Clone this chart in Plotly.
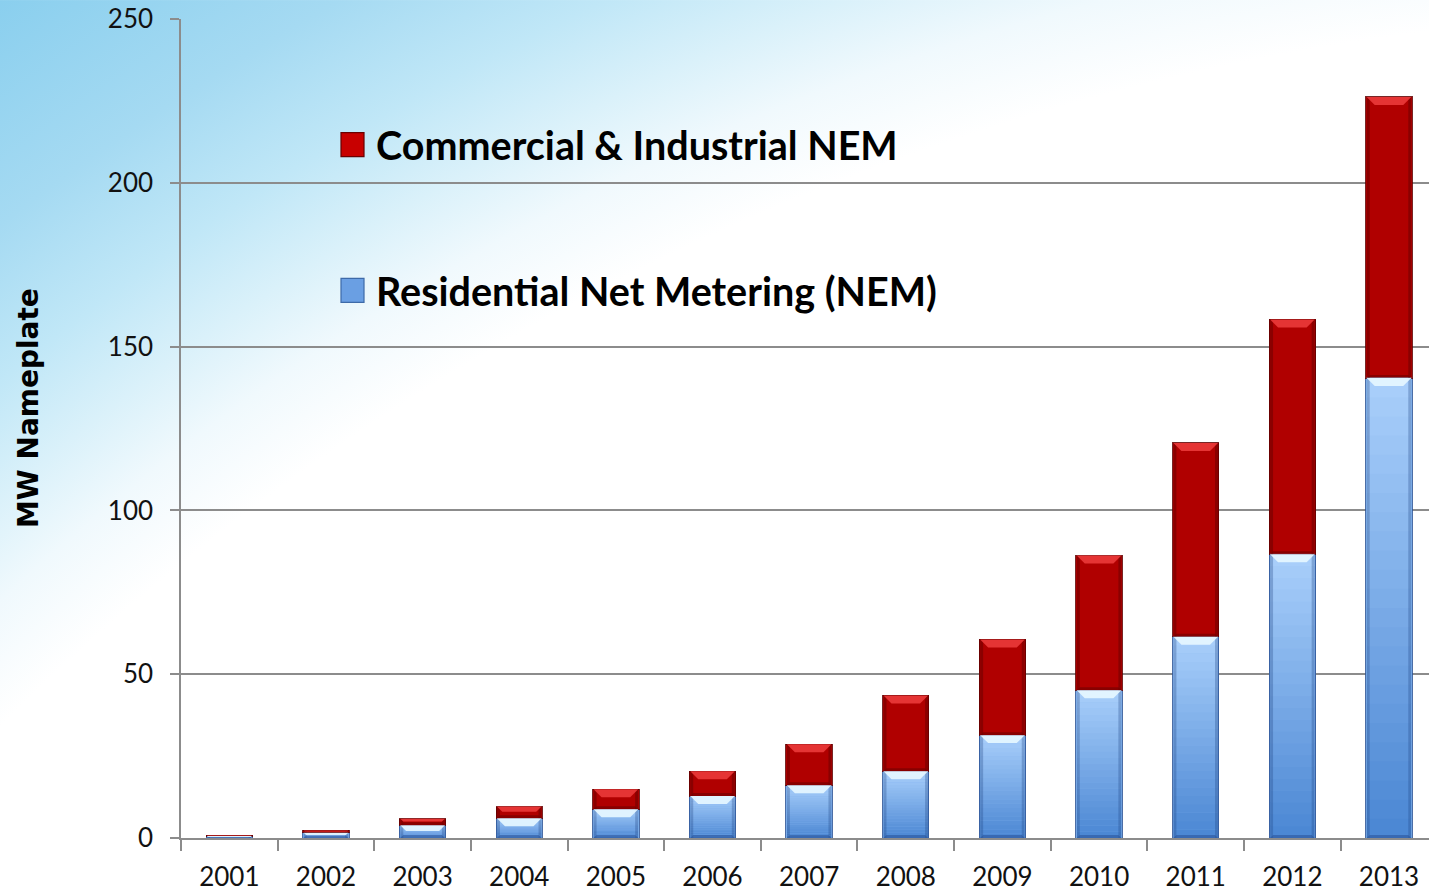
import base64
import plotly.graph_objects as go

# Installed net-metered capacity by year (MW nameplate)
years = ["2001", "2002", "2003", "2004", "2005", "2006", "2007",
         "2008", "2009", "2010", "2011", "2012", "2013"]
residential_mw = [0.6, 1.6, 3.9, 6.0, 8.8, 12.8, 16.1, 20.4, 31.4, 45.1, 61.4, 86.6, 140.4]
commercial_mw = [0.3, 0.7, 2.0, 3.6, 6.1, 7.6, 12.5, 23.1, 29.2, 41.1, 59.2, 71.7, 85.8]
series_names = ["Residential Net Metering (NEM)", "Commercial & Industrial NEM"]
y_ticks = [0, 50, 100, 150, 200, 250]
y_title = "MW Nameplate"

W, H = 1429, 892
ML, MR, MT, MB = 181, 0, 19, 52
PW, PH = W - ML - MR, H - MT - MB
X_RANGE = [-0.5, 12.414]
Y_RANGE = [0, 250]
BAR_W = 0.48

px_per_x = PW / (X_RANGE[1] - X_RANGE[0])
px_per_y = PH / (Y_RANGE[1] - Y_RANGE[0])

BLUE_FILL = "#7fb1ee"
RED_FILL = "#b00000"

fig = go.Figure()
fig.add_trace(go.Bar(
    x=years, y=residential_mw, name=series_names[0], width=BAR_W,
    marker=dict(color=BLUE_FILL, line=dict(color="rgba(45,85,150,0.85)", width=1)),
    showlegend=False,
))
fig.add_trace(go.Bar(
    x=years, y=commercial_mw, name=series_names[1], width=BAR_W,
    marker=dict(color=RED_FILL, line=dict(color="rgba(95,0,0,0.85)", width=1)),
    showlegend=False,
))

shapes = []


def mix(c0, c1, t):
    return "rgb(%d,%d,%d)" % tuple(round(a + (b - a) * t) for a, b in zip(c0, c1))


def bevel(i, y0, y1, top, color, depth_px):
    """Trapezoid highlight on the top or bottom edge of a bar segment."""
    seg = y1 - y0
    if seg <= 0:
        return
    h = min(depth_px / px_per_y, 0.45 * seg)
    dx = (h * px_per_y) / px_per_x
    inset = 0.9 / px_per_x
    xl, xr = i - BAR_W / 2 + inset, i + BAR_W / 2 - inset
    if top:
        ya, yb = y1, y1 - h
    else:
        ya, yb = y0, y0 + h
    path = f"M {xl},{ya} L {xr},{ya} L {xr - dx},{yb} L {xl + dx},{yb} Z"
    shapes.append(dict(type="path", path=path, xref="x", yref="y", layer="above",
                       fillcolor=color, line=dict(width=0)))


def side_edges(i, y0, y1, color):
    """Thin darker strips along the left and right sides of a bar segment."""
    if y1 - y0 <= 0:
        return
    inset = 0.9 / px_per_x
    w = 3.0 / px_per_x
    xl, xr = i - BAR_W / 2 + inset, i + BAR_W / 2 - inset
    for a, b in ((xl, xl + w), (xr - w, xr)):
        shapes.append(dict(type="rect", xref="x", yref="y", layer="above",
                           x0=a, x1=b, y0=y0, y1=y1, fillcolor=color, line=dict(width=0)))


bottom_blue = (74, 134, 211)
top_blue = (170, 208, 251)
n_bands = 24
for i, (r, c) in enumerate(zip(residential_mw, commercial_mw)):
    inset = 1.0 / px_per_x
    xl, xr = i - BAR_W / 2 + inset, i + BAR_W / 2 - inset
    # vertical shading of the residential segment
    for k in range(n_bands):
        y0 = r * k / n_bands
        y1 = r * (k + 1) / n_bands
        shapes.append(dict(type="rect", xref="x", yref="y", layer="above",
                           x0=xl, x1=xr, y0=y0, y1=y1 + (r / n_bands) * 0.05,
                           fillcolor=mix(bottom_blue, top_blue, (k + 0.5) / n_bands),
                           line=dict(width=0)))
    side_edges(i, 0, r, "rgba(30,65,130,0.30)")
    side_edges(i, r, r + c, "rgba(70,0,0,0.35)")
    bevel(i, 0, r, False, "rgba(40,80,150,0.55)", 3)
    bevel(i, 0, r, True, "rgba(228,246,255,0.95)", 8)
    bevel(i, r, r + c, False, "rgba(110,0,0,0.6)", 3)
    bevel(i, r, r + c, True, "rgba(232,55,55,0.95)", 8)


def px_to_paper_x(px):
    return (px - ML) / PW


def px_to_paper_y(py):
    return (MT + PH - py) / PH


# legend keys and labels
legend_items = [
    (series_names[1], 145, "#c80000", "#6a0000"),
    (series_names[0], 291, "#6a9fe3", "#3d6aa8"),
]
annotations = []
for name, cy, fill, edge in legend_items:
    shapes.append(dict(type="rect", xref="paper", yref="paper",
                       x0=px_to_paper_x(341), x1=px_to_paper_x(364),
                       y0=px_to_paper_y(cy + 12), y1=px_to_paper_y(cy - 12),
                       fillcolor=fill, line=dict(color=edge, width=1.2), layer="above"))
    annotations.append(dict(text=name, xref="paper", yref="paper",
                            x=px_to_paper_x(374), y=px_to_paper_y(cy),
                            xanchor="left", yanchor="middle", showarrow=False,
                            font=dict(family="Lato", size=39.5, color="#000000", weight="bold")))

annotations.append(dict(text=y_title, xref="paper", yref="paper",
                        x=px_to_paper_x(28), y=px_to_paper_y(409),
                        xanchor="center", yanchor="middle", showarrow=False, textangle=-90,
                        font=dict(family="DejaVu Sans", size=28, color="#000000", weight="bold")))

# soft sky-blue wash in the top-left corner of the slide
svg = (
    f"<svg xmlns='http://www.w3.org/2000/svg' width='{W}' height='{H}' viewBox='0 0 {W} {H}' "
    "preserveAspectRatio='none'><defs>"
    "<radialGradient id='g' gradientUnits='userSpaceOnUse' cx='1740' cy='2483' r='3032'>"
    "<stop offset='0' stop-color='#ffffff'/>"
    "<stop offset='0.815' stop-color='#ffffff'/>"
    "<stop offset='0.845' stop-color='#f0f9fd'/>"
    "<stop offset='0.87' stop-color='#daf1fa'/>"
    "<stop offset='0.90' stop-color='#c0e7f7'/>"
    "<stop offset='0.94' stop-color='#a5daf2'/>"
    "<stop offset='1' stop-color='#8acfee'/>"
    "</radialGradient></defs>"
    f"<rect width='{W}' height='{H}' fill='url(#g)'/></svg>"
)
bg_src = "data:image/svg+xml;base64," + base64.b64encode(svg.encode()).decode()

fig.update_layout(
    width=W, height=H, autosize=False,
    margin=dict(l=ML, r=MR, t=MT, b=MB, pad=0),
    barmode="stack",
    paper_bgcolor="#ffffff",
    plot_bgcolor="rgba(0,0,0,0)",
    shapes=shapes,
    annotations=annotations,
    images=[dict(source=bg_src, xref="paper", yref="paper",
                 x=-ML / PW, y=1 + MT / PH, sizex=W / PW, sizey=H / PH,
                 xanchor="left", yanchor="top", sizing="stretch", layer="below")],
    xaxis=dict(
        type="category", range=X_RANGE, tickson="boundaries",
        ticks="outside", ticklen=11, tickwidth=1.5, tickcolor="#8c8c8c",
        showline=True, linecolor="#8c8c8c", linewidth=1.5, showgrid=False,
        tickfont=dict(family="Lato", size=26, color="#111111"),
        ticklabelstandoff=15,
    ),
    yaxis=dict(
        range=Y_RANGE, tickvals=y_ticks, ticks="outside", ticklen=9, tickwidth=1.5,
        tickcolor="#8c8c8c", showline=True, linecolor="#8c8c8c", linewidth=1.5,
        showgrid=True, gridcolor="#8c8c8c", gridwidth=1.5, zeroline=False,
        tickfont=dict(family="Lato", size=26, color="#111111"),
        ticklabelstandoff=12,
    ),
    font=dict(family="Lato"),
)

fig.write_html("out.html")
